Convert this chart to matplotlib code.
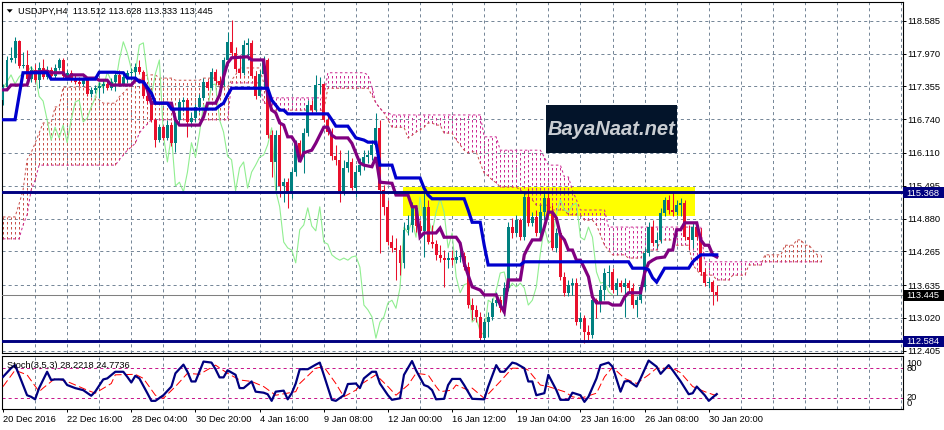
import numpy as np
import matplotlib
matplotlib.use("Agg")
import matplotlib.pyplot as plt
from matplotlib.patches import Rectangle, Polygon
from matplotlib.transforms import blended_transform_factory, offset_copy

plt.rcParams['font.family'] = ['Liberation Sans', 'DejaVu Sans']
plt.rcParams['lines.scale_dashes'] = False

# ------------------------------------------------------------------ data
symbol = "USDJPY,H4"
first_open = 117.10
closes = [
    117.34, 117.85, 117.89, 118.21, 117.74, 117.76, 117.49, 117.66, 117.47, 117.70,
    117.53, 117.66, 117.55, 117.70, 117.85, 117.55, 117.61, 117.47, 117.44, 117.40,
    117.47, 117.21, 117.29, 117.32, 117.36, 117.40, 117.32, 117.44, 117.57, 117.40,
    117.53, 117.61, 117.62, 117.72, 117.62, 117.17, 117.08, 116.73, 116.35, 116.59,
    116.39, 116.63, 116.30, 116.73, 117.06, 117.10, 116.69, 116.76, 116.97, 117.14,
    117.44, 117.32, 117.62, 117.46, 117.38, 117.85, 118.19, 117.98, 117.68, 117.61,
    118.13, 118.17, 117.55, 117.17, 117.59, 117.85, 116.44, 115.94, 116.44, 115.49,
    115.56, 115.38, 115.75, 116.30, 116.03, 116.48, 117.01, 116.91, 117.38, 117.40,
    116.73, 116.50, 116.05, 115.98, 115.40, 115.83, 115.94, 115.45, 115.75, 115.88,
    116.03, 116.07, 116.26, 116.58, 115.41, 115.10, 114.44, 114.33, 114.29, 114.05,
    114.67, 114.76, 115.08, 114.74, 114.65, 115.10, 114.44, 114.40, 114.20, 114.14,
    114.10, 114.14, 114.10, 114.16, 114.18, 113.97, 113.26, 113.17, 113.04, 112.64,
    112.94, 113.04, 113.30, 113.35, 113.20, 113.58, 114.72, 114.61, 114.85, 114.53,
    115.28, 114.80, 114.91, 114.61, 115.00, 115.26, 115.00, 114.33, 114.61, 113.79,
    113.49, 113.64, 113.67, 112.94, 113.02, 112.76, 112.70, 113.35, 113.30, 113.54,
    113.86, 113.88, 113.54, 113.67, 113.60, 113.67, 113.58, 113.26, 113.35, 113.60,
    114.23, 114.72, 114.42, 114.48, 114.98, 115.23, 115.04, 115.00, 115.13, 115.17,
    114.53, 114.48, 114.72, 114.53, 113.88, 113.67, 113.69, 113.512, 113.445]
highs = [
    117.40, 117.92, 118.09, 118.28, 118.22, 118.00, 118.04, 117.74, 117.77, 117.81,
    117.87, 117.74, 117.72, 117.77, 117.89, 117.89, 117.66, 117.66, 117.59, 117.53,
    117.53, 117.51, 117.34, 117.38, 117.44, 117.47, 117.47, 117.51, 117.62, 117.66,
    117.59, 117.66, 117.70, 117.79, 117.85, 117.66, 117.29, 117.14, 116.76, 116.65,
    116.63, 116.73, 116.69, 116.78, 117.12, 117.16, 117.14, 116.88, 117.03, 117.21,
    117.51, 117.47, 117.70, 117.68, 117.55, 117.91, 118.37, 118.60, 118.09, 117.94,
    118.22, 118.26, 118.22, 117.62, 117.66, 117.92, 117.89, 116.54, 116.54, 116.73,
    115.64, 115.64, 115.83, 116.35, 116.35, 116.58, 117.10, 117.10, 117.57, 117.53,
    117.42, 116.82, 116.58, 116.26, 116.16, 115.98, 116.16, 116.01, 115.88, 116.01,
    116.16, 116.16, 116.35, 116.86, 116.73, 115.51, 115.23, 114.57, 114.52, 114.38,
    114.81, 114.95, 115.19, 115.13, 114.85, 115.41, 115.23, 114.76, 114.48, 114.38,
    114.29, 114.25, 114.29, 114.29, 114.33, 114.25, 114.07, 113.39, 113.26, 113.13,
    113.02, 113.13, 113.39, 113.50, 113.43, 113.69, 114.81, 114.89, 114.95, 114.89,
    115.38, 115.45, 115.00, 115.04, 115.13, 115.38, 115.36, 115.13, 114.70, 114.67,
    113.88, 113.73, 113.77, 113.77, 113.13, 113.07, 112.89, 113.45, 113.39, 113.64,
    113.95, 114.01, 113.95, 113.77, 113.73, 113.77, 113.73, 113.67, 113.43, 113.69,
    114.33, 114.81, 114.85, 114.63, 115.08, 115.28, 115.32, 115.36, 115.23, 115.26,
    115.23, 114.76, 114.81, 114.81, 114.70, 113.95, 113.77, 113.73, 113.628]
lows = [
    117.01, 117.32, 117.81, 117.79, 117.70, 117.70, 117.46, 117.44, 117.44, 117.32,
    117.49, 117.49, 117.51, 117.51, 117.66, 117.49, 117.47, 117.44, 117.40, 117.36,
    117.36, 117.17, 117.16, 117.23, 117.14, 117.23, 117.29, 117.29, 117.27, 117.36,
    117.36, 117.42, 117.47, 117.51, 117.59, 117.14, 117.03, 116.69, 116.22, 116.31,
    116.35, 116.35, 116.24, 116.13, 116.63, 116.89, 116.41, 116.59, 116.69, 116.88,
    117.10, 117.29, 117.29, 117.40, 117.32, 117.36, 117.79, 117.92, 117.62, 117.51,
    117.57, 117.85, 117.51, 117.12, 117.16, 117.32, 116.39, 115.66, 115.41, 115.28,
    115.19, 115.08, 115.26, 115.68, 115.94, 115.73, 116.43, 116.84, 116.88, 117.21,
    116.69, 116.44, 115.98, 115.88, 115.19, 115.32, 115.75, 115.41, 115.28, 115.70,
    115.79, 115.92, 115.98, 116.16, 114.23, 114.95, 114.38, 114.25, 113.73, 113.82,
    113.95, 114.57, 114.63, 114.63, 114.55, 114.16, 114.40, 114.33, 114.10, 114.07,
    113.60, 113.95, 114.01, 114.05, 114.07, 113.92, 113.20, 112.98, 112.94, 112.59,
    112.57, 112.66, 112.98, 113.24, 113.13, 113.05, 113.52, 114.52, 114.55, 114.48,
    114.48, 114.74, 114.74, 114.55, 114.55, 114.85, 114.95, 114.29, 114.25, 113.73,
    113.43, 113.43, 113.45, 112.89, 112.83, 112.55, 112.60, 112.64, 113.02, 113.13,
    113.35, 113.60, 113.49, 113.45, 113.50, 113.04, 113.50, 113.20, 113.04, 113.30,
    113.54, 114.18, 114.37, 114.33, 114.42, 114.93, 114.96, 114.93, 114.95, 114.93,
    114.48, 114.29, 114.33, 114.48, 113.82, 113.62, 113.58, 113.26, 113.333]
# FX candles open at the previous close
opens = [first_open] + closes[:-1]

# Ichimoku lines (vertices: bar index, price)
tenkan_bars = [0, 1, 2, 6, 7, 11, 12, 15, 16, 17, 20, 21, 23, 24, 26, 27, 32, 33, 34, 35, 36, 37,
               42, 43, 44, 49, 50, 51, 53, 54, 55, 56, 57, 61, 62, 65, 66, 67, 68, 69, 70, 71,
               72, 73, 74, 75, 77, 78, 80, 81, 82, 83, 86, 87, 89, 90, 92, 93, 94, 97, 98, 101,
               102, 103, 104, 105, 108, 109, 110, 113, 114, 115, 116, 117, 119, 120, 123, 124,
               125, 126, 129, 130, 131, 132, 134, 135, 136, 137, 138, 139, 140, 141, 142, 143,
               144, 145, 146, 147, 148, 151, 152, 154, 155, 156, 159, 160, 161, 162, 163, 165,
               166, 167, 168, 169, 170, 173, 174, 175, 176, 177, 178]
tenkan_vals = [117.29, 117.29, 117.38, 117.38, 117.62, 117.64, 117.61, 117.61, 117.51, 117.57,
               117.57, 117.51, 117.51, 117.47, 117.47, 117.38, 117.38, 117.47, 117.47, 117.44,
               117.29, 117.04, 117.04, 116.73, 116.63, 116.63, 116.78, 117.04, 117.04, 117.19,
               117.53, 117.79, 117.89, 117.91, 117.85, 117.85, 117.19, 116.91, 116.86, 116.67,
               116.63, 116.41, 116.41, 116.29, 115.94, 116.11, 116.16, 116.29, 116.59, 116.59,
               116.44, 116.39, 116.39, 116.29, 115.92, 115.88, 115.85, 116.03, 115.56, 115.54,
               115.32, 115.32, 115.10, 115.10, 114.53, 114.61, 114.61, 114.70, 114.53, 114.53,
               114.42, 114.05, 113.82, 113.60, 113.54, 113.45, 113.45, 113.26, 113.13, 113.73,
               113.73, 114.20, 114.35, 114.48, 114.48, 114.72, 115.00, 115.00, 114.89, 114.57,
               114.48, 114.29, 114.29, 114.10, 114.10, 113.95, 113.79, 113.41, 113.30, 113.30,
               113.26, 113.26, 113.41, 113.49, 113.49, 113.86, 114.05, 114.10, 114.14, 114.16,
               114.29, 114.29, 114.67, 114.67, 114.80, 114.80, 114.48, 114.38, 114.38, 114.20,
               114.16]
kijun_bars = [0, 3, 5, 11, 12, 23, 24, 28, 29, 30, 31, 33, 34, 35, 37, 38, 41, 42, 53, 54, 55,
              56, 57, 66, 67, 69, 70, 71, 81, 82, 83, 86, 87, 88, 90, 91, 93, 94, 97, 98, 104,
              105, 106, 107, 115, 116, 117, 119, 120, 121, 129, 130, 156, 157, 160, 161, 162,
              163, 164, 165, 171, 172, 173, 174, 178]
kijun_vals = [116.73, 116.73, 117.61, 117.61, 117.49, 117.49, 117.62, 117.62, 117.61, 117.61,
              117.51, 117.51, 117.44, 117.44, 117.23, 117.04, 117.04, 116.93, 116.93, 116.99,
              117.04, 117.19, 117.32, 117.32, 117.10, 116.91, 116.91, 116.84, 116.84, 116.73,
              116.61, 116.61, 116.50, 116.39, 116.35, 116.31, 116.31, 115.88, 115.88, 115.64,
              115.64, 115.45, 115.32, 115.25, 115.25, 115.04, 114.81, 114.81, 114.38, 114.01,
              114.01, 114.07, 114.07, 113.95, 113.95, 113.92, 113.77, 113.69, 113.82, 113.95,
              113.95, 114.07, 114.14, 114.20, 114.20]
# Senkou spans, one value per bar (cloud runs 26 bars past the last candle)
span_a = [
    114.91, 114.91, 114.91, 114.91, 115.15, 115.41, 115.98, 116.11, 116.29, 116.48,
    116.67, 116.67, 116.67, 116.97, 116.97, 117.34, 117.34, 117.34, 117.34, 117.34,
    117.34, 117.34, 117.25, 117.17, 117.10, 117.04, 117.04, 117.04, 117.04, 117.16,
    117.23, 117.31, 117.38, 117.44, 117.47, 117.53, 117.57, 117.57, 117.57, 117.51,
    117.51, 117.51, 117.51, 117.47, 117.47, 117.47, 117.47, 117.47, 117.47, 117.47,
    117.51, 117.51, 117.51, 117.51, 117.34, 117.34, 117.34, 117.47, 117.57, 117.70,
    117.70, 117.70, 117.70, 117.70, 117.70, 117.42, 117.16, 116.91, 116.91, 116.91,
    116.91, 116.91, 116.91, 116.91, 116.91, 116.91, 116.91, 116.91, 116.91, 116.91,
    116.91, 117.32, 117.32, 117.32, 117.32, 117.32, 117.32, 117.32, 117.32, 117.32,
    117.32, 117.32, 117.19, 117.04, 116.95, 116.86, 116.73, 116.59, 116.59, 116.59,
    116.59, 116.39, 116.44, 116.50, 116.54, 116.59, 116.67, 116.67, 116.63, 116.63,
    116.48, 116.48, 116.48, 116.35, 116.26, 116.16, 116.11, 116.13, 116.13, 115.92,
    115.73, 115.68, 115.60, 115.55, 115.47, 115.47, 115.47, 115.47, 115.47, 115.41,
    115.36, 115.28, 115.23, 115.13, 115.13, 115.13, 115.13, 115.04, 115.04, 115.04,
    115.04, 114.95, 114.95, 114.95, 114.95, 114.85, 114.85, 114.85, 114.76, 114.57,
    114.38, 114.29, 114.20, 114.20, 114.20, 114.20, 114.14, 114.14, 114.14, 114.14,
    114.29, 114.29, 114.29, 114.29, 114.48, 114.48, 114.48, 114.48, 114.38, 114.38,
    114.38, 114.38, 114.01, 113.92, 113.82, 113.82, 113.82, 113.82, 113.73, 113.73,
    113.73, 113.73, 113.82, 113.82, 113.82, 113.82, 114.01, 114.01, 114.01, 114.01,
    114.20, 114.20, 114.20, 114.20, 114.20, 114.38, 114.38, 114.38, 114.48, 114.48,
    114.38, 114.38, 114.29, 114.20, 114.20]
span_b = [
    114.50, 114.50, 114.50, 114.50, 114.50, 114.76, 114.95, 115.41, 115.60, 115.88,
    115.88, 115.88, 115.88, 115.88, 115.88, 115.88, 115.88, 115.88, 115.88, 115.88,
    115.88, 115.88, 115.88, 115.88, 115.88, 115.88, 115.88, 115.88, 115.88, 115.98,
    116.07, 116.16, 116.22, 116.29, 116.48, 116.58, 116.65, 116.73, 116.73, 116.73,
    116.73, 116.73, 116.73, 116.73, 116.73, 116.73, 116.73, 116.73, 116.73, 116.73,
    116.73, 116.73, 116.73, 116.73, 116.73, 116.73, 116.73, 117.42, 117.42, 117.42,
    117.42, 117.42, 117.42, 117.42, 117.42, 117.04, 117.04, 117.14, 117.14, 117.14,
    117.14, 117.14, 117.14, 117.14, 117.14, 117.14, 117.14, 117.14, 117.14, 117.14,
    117.14, 117.61, 117.61, 117.61, 117.61, 117.61, 117.61, 117.61, 117.61, 117.61,
    117.61, 117.57, 117.34, 117.04, 116.95, 116.86, 116.86, 116.82, 116.82, 116.82,
    116.82, 116.82, 116.82, 116.82, 116.82, 116.82, 116.82, 116.82, 116.82, 116.82,
    116.82, 116.82, 116.82, 116.82, 116.82, 116.82, 116.82, 116.82, 116.82, 116.82,
    116.41, 116.41, 116.41, 116.41, 116.16, 116.16, 116.16, 116.16, 116.16, 116.16,
    116.16, 116.16, 116.16, 116.16, 116.16, 116.03, 115.88, 115.88, 115.88, 115.88,
    115.66, 115.66, 115.41, 115.23, 115.04, 115.04, 115.04, 115.04, 115.04, 115.04,
    115.04, 114.72, 114.72, 114.72, 114.72, 114.72, 114.72, 114.72, 114.72, 114.72,
    114.72, 114.72, 114.72, 114.72, 114.72, 114.72, 114.72, 114.72, 114.72, 114.72,
    114.72, 114.72, 114.72, 114.72, 114.72, 114.07, 114.07, 114.07, 114.07, 114.07,
    114.07, 114.07, 114.07, 114.07, 114.07, 114.07, 114.07, 114.07, 114.07, 114.07,
    114.07, 114.07, 114.07, 114.07, 114.07, 114.07, 114.07, 114.07, 114.07, 114.07,
    114.07, 114.07, 114.07, 114.07, 114.07]
chikou_shift = 26

# Stochastic (3,5,3) vertices: bar index, value
stoch_k_bars = [0, 2, 3, 4, 6, 7, 8, 9, 11, 12, 13, 15, 16, 18, 20, 22, 23, 25, 26, 28, 30, 31,
                32, 33, 34, 36, 37, 38, 40, 42, 43, 45, 46, 47, 48, 50, 52, 53, 54, 55, 56, 58,
                59, 60, 62, 63, 65, 66, 67, 68, 70, 71, 72, 73, 74, 76, 78, 79, 80, 82, 83, 85,
                86, 88, 89, 90, 92, 93, 94, 96, 97, 99, 100, 102, 103, 105, 106, 107, 108, 110,
                111, 112, 114, 115, 117, 120, 121, 123, 124, 125, 127, 128, 130, 131, 132, 133,
                135, 136, 138, 139, 141, 142, 144, 145, 146, 148, 149, 151, 152, 154, 155, 156,
                158, 159, 161, 163, 164, 166, 167, 169, 171, 172, 173, 175, 176, 177, 178]
stoch_k_vals = [62, 79, 85, 66, 26, 23, 18, 40, 72, 56, 57, 57, 46, 40, 36, 25, 33, 57, 59, 72,
                72, 62, 51, 64, 59, 30, 15, 15, 26, 43, 69, 86, 72, 53, 53, 92, 90, 77, 61, 61,
                75, 66, 40, 40, 53, 33, 31, 28, 15, 33, 35, 18, 30, 49, 77, 77, 86, 90, 66, 17,
                15, 26, 48, 49, 40, 59, 72, 72, 49, 26, 17, 20, 66, 93, 75, 46, 43, 36, 18, 19,
                46, 58, 58, 46, 19, 18, 43, 85, 72, 72, 90, 88, 79, 53, 53, 26, 30, 66, 36, 17,
                17, 31, 26, 13, 23, 59, 85, 90, 82, 33, 53, 54, 43, 59, 94, 82, 68, 85, 75, 53,
                28, 30, 43, 26, 15, 22, 28.2218]
stoch_d_bars = [0, 3, 6, 9, 10, 13, 16, 21, 23, 27, 28, 33, 35, 38, 40, 43, 46, 49, 53, 56, 59,
                62, 65, 68, 73, 74, 78, 80, 83, 85, 88, 89, 93, 96, 98, 101, 103, 106, 108, 109,
                112, 113, 116, 117, 120, 124, 127, 130, 131, 134, 136, 140, 142, 144, 148, 150,
                152, 155, 158, 161, 163, 167, 169, 172, 175, 178]
stoch_d_vals = [43, 75, 66, 33, 40, 59, 53, 36, 30, 49, 66, 67, 59, 26, 20, 43, 69, 67, 85, 69,
                56, 53, 43, 26, 33, 49, 79, 82, 49, 23, 36, 46, 66, 43, 26, 46, 69, 66, 43, 33,
                36, 46, 36, 40, 20, 53, 79, 79, 75, 46, 43, 33, 23, 20, 30, 62, 81, 59, 49, 66,
                79, 79, 70, 43, 33, 24.7736]
stoch_levels = [80, 20]
stoch_scale_labels = ["100", "80", "20", "0"]

price_ticks = [118.585, 117.970, 117.355, 116.740, 116.110, 115.495,
               114.880, 114.265, 113.635, 113.020, 112.405]
h_levels = [115.368, 112.584]
zone_bars = [99.8, 172.6]
zone_prices = [114.933, 115.476]
xtick_bars = [0, 16, 32, 48, 64, 80, 96, 112, 128, 144, 160, 176]
xtick_labels = ["20 Dec 2016", "22 Dec 16:00", "28 Dec 04:00", "30 Dec 20:00", "4 Jan 16:00",
                "9 Jan 08:00", "12 Jan 00:00", "16 Jan 12:00", "19 Jan 04:00", "23 Jan 16:00",
                "26 Jan 08:00", "30 Jan 20:00"]
logo_text = "BayaNaat.net"

# ------------------------------------------------------------------ style
C_UP, C_DN = "#008080", "#e8102c"
C_TENKAN, C_KIJUN, C_CHIKOU = "#800080", "#0000cd", "#90ee90"
C_SPAN_A, C_SPAN_B = "#c8504a", "#cc2a92"
C_LEVEL = "#000080"
C_GRID = "#778899"
FS = 6.7

W, H = 945, 430
fig = plt.figure(figsize=(W / 100, H / 100), dpi=100)
fig.patch.set_facecolor("white")


def box(x0, y0, x1, y1):
    return [x0 / W, 1 - y1 / H, (x1 - x0) / W, (y1 - y0) / H]


ax = fig.add_axes(box(2.5, 2.0, 903.0, 353.0))
ax2 = fig.add_axes(box(2.5, 355.5, 903.0, 409.0))
XMIN, XMAX = -0.125, 224.44
ax.set_xlim(XMIN, XMAX)
ax.set_ylim(112.362, 118.935)
ax2.set_xlim(XMIN, XMAX)
ax2.set_ylim(-0.98, 103.9)

for a in (ax, ax2):
    a.set_facecolor("white")
    for s in a.spines.values():
        s.set_linewidth(0.8)
        s.set_color("black")
    a.set_axisbelow(True)

grid_kw = dict(color=C_GRID, linestyle=(0, (2.2, 2.2)), linewidth=0.72)

# main panel grid / axis
ax.set_xticks(np.arange(8, 225, 8))
ax.tick_params(axis="x", length=0, labelbottom=False)
ax.set_yticks(price_ticks)
ax.set_yticklabels([f"{p:.3f}" for p in price_ticks], fontsize=FS)
ax.yaxis.tick_right()
ax.tick_params(axis="y", direction="out", length=2.2, width=0.7, pad=0.8, labelsize=FS)
ax.grid(True, **grid_kw)

# stochastic panel axis
ax2.set_xticks(xtick_bars)
ax2.set_xticks(np.arange(8, 225, 8), minor=True)
ax2.tick_params(axis="x", which="major", direction="out", length=2.2, width=0.7, labelbottom=False)
ax2.tick_params(axis="x", which="minor", length=0)
ax2.set_yticks([])
ax2.grid(True, which="minor", axis="x", **grid_kw)

n = len(closes)
xb = np.arange(n)
o = np.array(opens)
c = np.array(closes)
hi = np.array(highs)
lo = np.array(lows)

# zone rectangle
ax.add_patch(Rectangle((zone_bars[0], zone_prices[0]), zone_bars[1] - zone_bars[0],
                       zone_prices[1] - zone_prices[0], facecolor="#ffff00",
                       edgecolor="none", zorder=1))

# Kumo (hatched vertical dotted lines between spans)
sa = np.array(span_a)
sb = np.array(span_b)
xs = np.arange(len(sa))
cols = [C_SPAN_A if a_ >= b_ else C_SPAN_B for a_, b_ in zip(sa, sb)]
ax.vlines(xs, np.minimum(sa, sb), np.maximum(sa, sb), colors=cols,
          linestyles=[(0, (1.8, 1.8))], linewidth=0.72, zorder=2)
ax.plot(xs, sa, color=C_SPAN_A, lw=0.72, ls=(0, (1.8, 1.8)), zorder=2)
ax.plot(xs, sb, color=C_SPAN_B, lw=0.72, ls=(0, (1.8, 1.8)), zorder=2)

# Chikou span
ax.plot(xb - chikou_shift, c, color=C_CHIKOU, lw=0.8, zorder=2.5)

# current price line
ax.axhline(closes[-1], color="#808080", lw=0.75, zorder=2.6)

# candles
up = c >= o
ccol = np.where(up, C_UP, C_DN)
ax.vlines(xb, lo, hi, colors=ccol, linewidth=0.75, zorder=3)
body_lo = np.minimum(o, c)
body_h = np.maximum(np.abs(c - o), 0.012)
ax.bar(xb, body_h, bottom=body_lo, width=0.74, color=ccol, linewidth=0, zorder=3.1)

# Tenkan / Kijun
ax.plot(tenkan_bars, tenkan_vals, color=C_TENKAN, lw=2.3, zorder=4,
        solid_joinstyle="miter")
ax.plot(kijun_bars, kijun_vals, color=C_KIJUN, lw=2.3, zorder=4.1,
        solid_joinstyle="miter")

# horizontal levels
for lv in h_levels:
    ax.axhline(lv, color=C_LEVEL, lw=2.1, zorder=5)

# price boxes on the right scale
yblend = blended_transform_factory(fig.transFigure, ax.transData)
box_h = 11 * (118.935 - 112.362) / 351.0
for val, bg in [(h_levels[0], C_LEVEL), (closes[-1], "black"), (h_levels[1], C_LEVEL)]:
    r = Rectangle((903.3 / W, val - box_h / 2), 41.7 / W, box_h, transform=yblend,
                  facecolor=bg, edgecolor="none", clip_on=False, zorder=10)
    fig.add_artist(r)
    fig.text(906.5 / W, val, f"{val:.3f}", color="white", fontsize=FS, va="baseline",
             transform=offset_copy(yblend, fig=fig, y=-3.3, units="dots"), zorder=11)

# title
fig.add_artist(Polygon([[6.7 / W, 1 - 9.3 / H], [12.7 / W, 1 - 9.3 / H], [9.7 / W, 1 - 12.7 / H]],
                       closed=True, facecolor="black", edgecolor="none",
                       transform=fig.transFigure))
fig.text(18 / W, 1 - 13.5 / H,
         f"{symbol}  {opens[-1]:.3f} {highs[-1]:.3f} {lows[-1]:.3f} {closes[-1]:.3f}",
         fontsize=FS, va="baseline", color="black")

# logo
ax.add_patch(Rectangle((0.6036, 0.5698), 0.1455, 0.1368, transform=ax.transAxes,
                       facecolor="#03142a", edgecolor="none", zorder=6))
ax.text(0.6763, 0.636, logo_text, transform=ax.transAxes, ha="center", va="center",
        fontsize=14.5, fontstyle="italic", fontweight="bold", color="#c9cdd2", zorder=7)

# stochastic
for lvl in stoch_levels:
    ax2.axhline(lvl, color="#c8198c", lw=0.72, ls=(0, (2.2, 2.2)), zorder=2)
ax2.plot(stoch_d_bars, stoch_d_vals, color="#ff0000", lw=0.72, ls=(0, (5.5, 2.5)), zorder=3)
ax2.plot(stoch_k_bars, stoch_k_vals, color="#000080", lw=1.6, zorder=4)
fig.text(7.5 / W, 1 - 367.5 / H,
         f"Stoch(3,5,3) {stoch_k_vals[-1]:.4f} {stoch_d_vals[-1]:.4f}",
         fontsize=FS, va="baseline", color="black")
ys = [365.5, 371.0, 400.5, 405.5]
for lab, yy in zip(stoch_scale_labels, ys):
    fig.text(906.5 / W, 1 - yy / H, lab, fontsize=FS, va="baseline", color="black")

# time labels
xblend = blended_transform_factory(ax2.transData, ax2.transAxes)
xt = offset_copy(xblend, fig=fig, x=0.3, y=-12.5, units="dots")
for b, lab in zip(xtick_bars, xtick_labels):
    ax2.text(b, 0, lab, transform=xt, fontsize=FS, ha="left", va="baseline",
             color="black", clip_on=False)

fig.savefig("out.png", dpi=100, facecolor="white")
